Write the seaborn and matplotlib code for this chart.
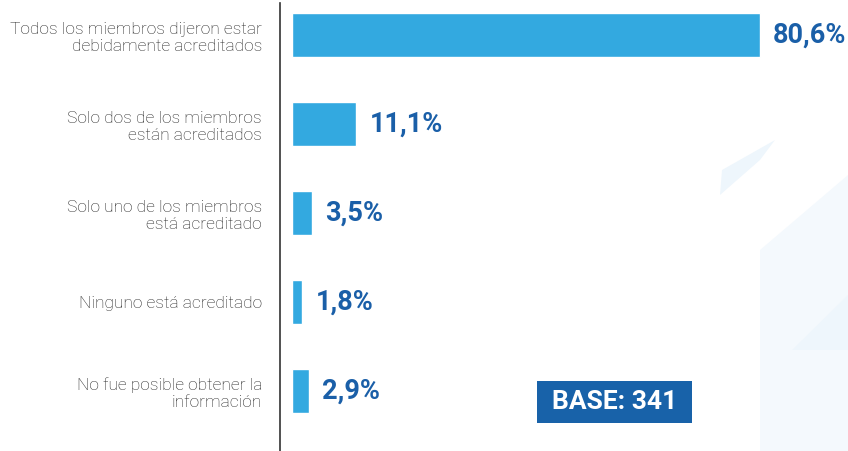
import matplotlib
matplotlib.use("Agg")
import matplotlib.pyplot as plt
from matplotlib.patches import Rectangle, Polygon
import pandas as pd
import seaborn as sns

# data
categories = [
    "Todos los miembros dijeron estar\ndebidamente acreditados",
    "Solo dos de los miembros\nestán acreditados",
    "Solo uno de los miembros\nestá acreditado",
    "Ninguno está acreditado",
    "No fue posible obtener la\ninformación",
]
values = [80.6, 11.1, 3.5, 1.8, 2.9]
value_labels = ["80,6%", "11,1%", "3,5%", "1,8%", "2,9%"]
base_text = "BASE: 341"

BAR_COLOR = "#33A9E0"
VALUE_COLOR = "#1A5FA8"
BOX_COLOR = "#1862A9"
LABEL_COLOR = "#222222"

W, H = 848, 451
sns.set_theme(style="white")
plt.rcParams["font.family"] = ["Roboto", "DejaVu Sans"]

fig = plt.figure(figsize=(W / 100, H / 100), dpi=100)
fig.patch.set_facecolor("white")

# faint background decoration (house shape on the right)
deco = "#EEF6FC"
fig.patches.append(Polygon([(760 / W, 1 - 250 / H), (848 / W, 1 - 175 / H), (848 / W, 0), (760 / W, 0)],
                           closed=True, transform=fig.transFigure, facecolor="#F4F9FD",
                           edgecolor="none", zorder=0))
fig.patches.append(Polygon([(720 / W, 1 - 195 / H), (722 / W, 1 - 170 / H), (775 / W, 1 - 140 / H),
                            (760 / W, 1 - 160 / H)],
                           closed=True, transform=fig.transFigure, facecolor=deco,
                           edgecolor="none", zorder=0))
fig.patches.append(Polygon([(792 / W, 1 - 350 / H), (848 / W, 1 - 295 / H), (848 / W, 1 - 350 / H)],
                           closed=True, transform=fig.transFigure, facecolor=deco,
                           edgecolor="none", zorder=0))

ax = fig.add_axes([280 / W, 0, (W - 280) / W, 1 - 3 / H])
ax.set_facecolor("none")

df = pd.DataFrame({"cat": categories, "val": values})
sns.barplot(data=df, y="cat", x="val", orient="h", color=BAR_COLOR,
            width=0.5, saturation=1, ax=ax)

px_per_unit = 468 / 80.6
ax.set_xlim(-12 / px_per_unit, (W - 280 - 12) / px_per_unit)
ax.set_ylim(4.672, -0.362)

for spine in ["top", "right", "bottom"]:
    ax.spines[spine].set_visible(False)
ax.spines["left"].set_color("#333333")
ax.spines["left"].set_linewidth(1.2)
ax.set_xticks([])
ax.set_xlabel("")
ax.set_ylabel("")
ax.tick_params(axis="y", length=0, pad=13)
ax.set_yticks(range(len(categories)))
ax.set_yticklabels(categories, fontsize=12.5, color=LABEL_COLOR, fontweight="light",
                   multialignment="right", linespacing=1.15)

for i, (v, lab) in enumerate(zip(values, value_labels)):
    ax.annotate(lab, xy=(v, i), xytext=(9.5, 0), textcoords="offset points",
                ha="left", va="center", fontsize=19.5, fontweight="bold", color=VALUE_COLOR)

# base box
fig.patches.append(Rectangle((537 / W, 1 - 423 / H), 155 / W, 42 / H, transform=fig.transFigure,
                             facecolor=BOX_COLOR, edgecolor="none", zorder=3))
fig.text(614.5 / W, 1 - 402 / H, base_text, ha="center", va="center", fontsize=19,
         fontweight="bold", color="white", zorder=4)

fig.savefig("out.png", dpi=100)
